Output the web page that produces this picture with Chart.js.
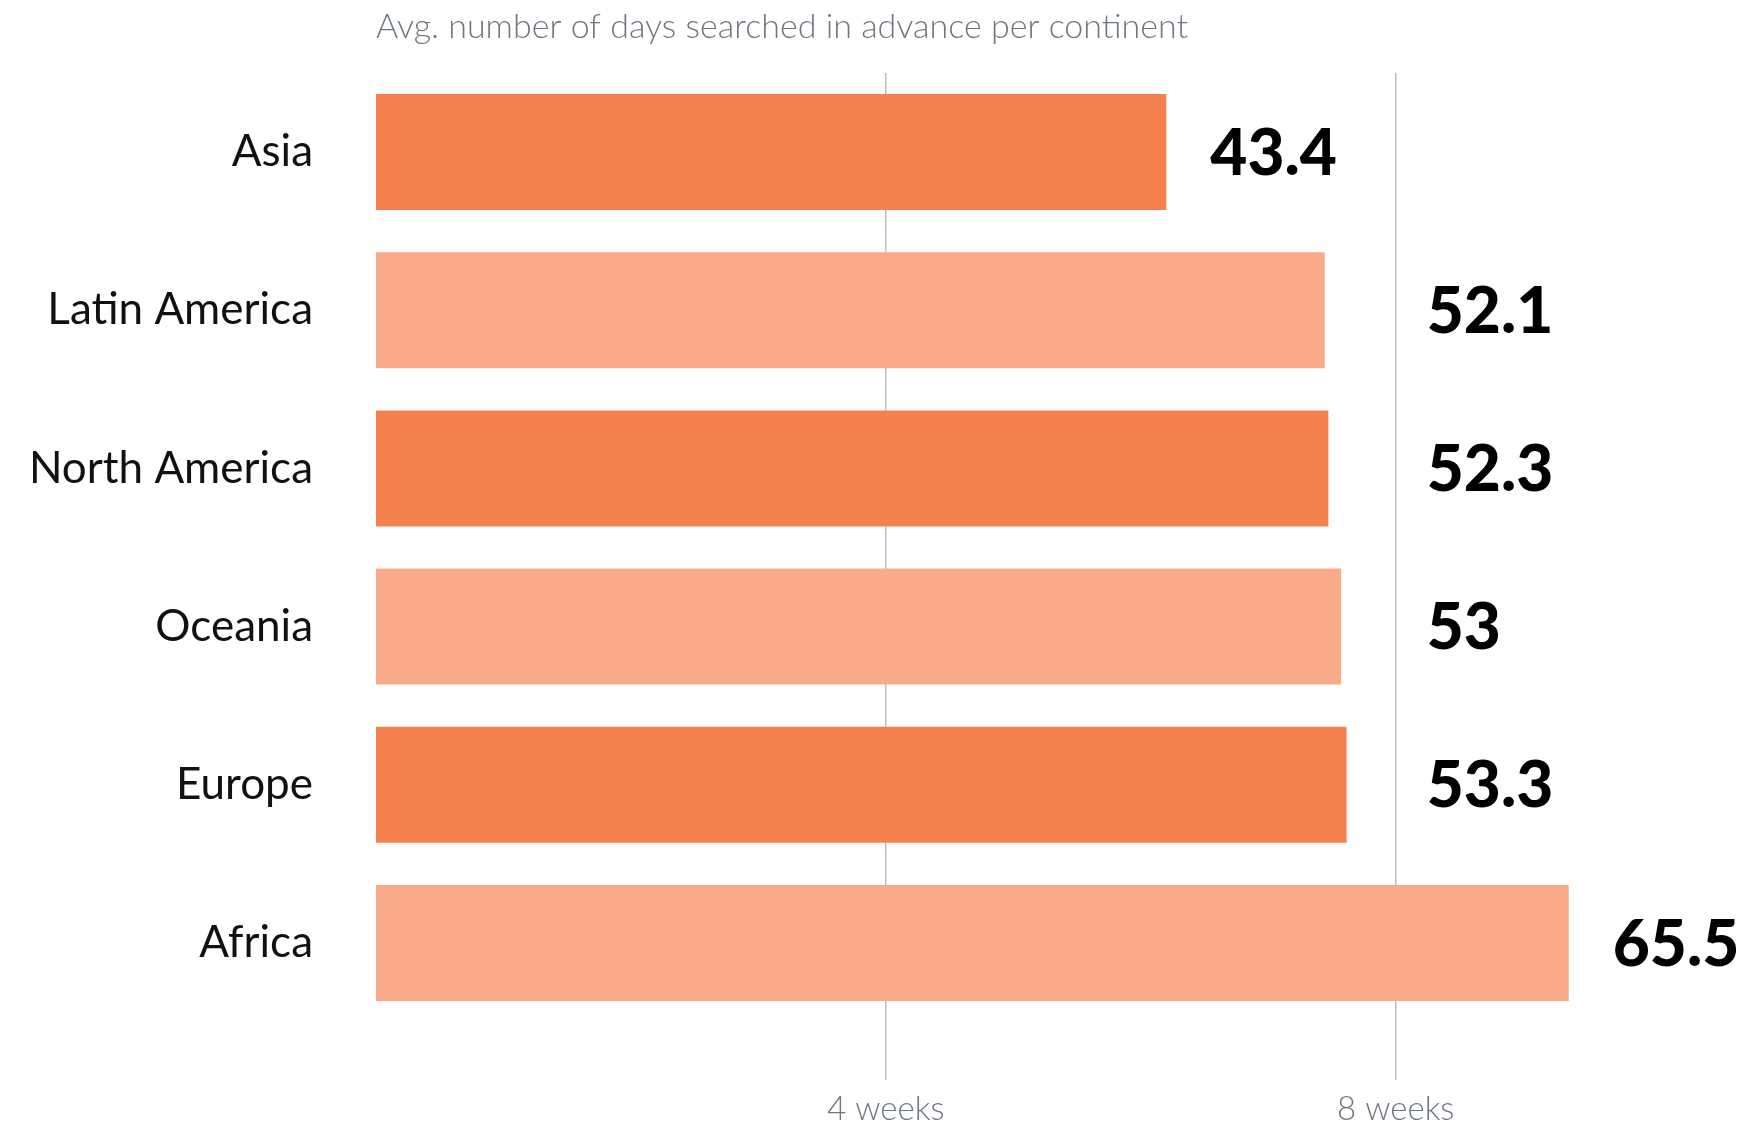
<!DOCTYPE html>
<html>
<head>
<meta charset="utf-8">
<script src="https://cdn.jsdelivr.net/npm/chart.js@4.4.1/dist/chart.umd.min.js"></script>
<style>
  html, body { margin: 0; padding: 0; background: #ffffff; }
  #wrap { width: 1749px; height: 1124px; }
</style>
</head>
<body>
<div id="wrap"><canvas id="daysChart" width="1749" height="1124"></canvas></div>
<script>
const continents = ["Asia", "Latin America", "North America", "Oceania", "Europe", "Africa"];
const avgDays = [43.4, 52.1, 52.3, 53, 53.3, 65.5];
const tickValues = [28, 56];
const tickLabels = ["4 weeks", "8 weeks"];
const chartTitle = "Avg. number of days searched in advance per continent";

const DARK = "#F5814F";
const LIGHT = "#F8AA89";
const GRID = "#BBC0C4";
const GREY_TEXT = "#6E777F";

// title sits above the plot, lined up with the bars' left edge
const topTitle = {
  id: "topTitle",
  afterDraw(chart) {
    const ctx = chart.ctx;
    ctx.save();
    ctx.font = "300 34px Lato, 'DejaVu Sans', sans-serif";
    ctx.fillStyle = GREY_TEXT;
    ctx.textBaseline = "middle";
    ctx.textAlign = "left";
    ctx.fillText(chartTitle, chart.chartArea.left, 27);
    ctx.restore();
  },
};

// value labels after the bars; pushed past the 8 weeks line if they would cross it
const valueLabels = {
  id: "valueLabels",
  afterDatasetsDraw(chart) {
    const ctx = chart.ctx;
    const xScale = chart.scales.x;
    const lineX = xScale.getPixelForValue(tickValues[tickValues.length - 1]);
    const meta = chart.getDatasetMeta(0);
    ctx.save();
    ctx.font = "900 64px Lato, 'DejaVu Sans', sans-serif";
    ctx.fillStyle = "#000000";
    ctx.textBaseline = "middle";
    ctx.textAlign = "left";
    meta.data.forEach((bar, i) => {
      const text = String(avgDays[i]);
      const w = ctx.measureText(text).width;
      let x = bar.x + 44;
      if (bar.x < lineX && x + w > lineX - 10) {
        x = lineX + 31;
      }
      ctx.fillText(text, x, bar.y + 2);
    });
    ctx.restore();
  },
};

const ctx = document.getElementById("daysChart").getContext("2d");

new Chart(ctx, {
  type: "bar",
  data: {
    labels: continents,
    datasets: [
      {
        data: avgDays,
        backgroundColor: (c) => (c.dataIndex % 2 === 0 ? DARK : LIGHT),
        borderWidth: 0,
        barPercentage: 0.733,
        categoryPercentage: 1,
      },
    ],
  },
  options: {
    indexAxis: "y",
    responsive: false,
    animation: false,
    layout: {
      padding: { top: 73, right: 0, bottom: 0, left: 0 },
    },
    plugins: {
      legend: { display: false },
      tooltip: { enabled: false },
      title: { display: false },
    },
    scales: {
      x: {
        min: 0,
        max: 75.4,
        border: { display: false },
        grid: {
          color: GRID,
          lineWidth: 1.5,
          drawTicks: true,
          tickLength: 58,
        },
        afterBuildTicks: (scale) => {
          scale.ticks = tickValues.map((v) => ({ value: v }));
        },
        afterFit: (scale) => {
          scale.height = 102;
        },
        ticks: {
          color: GREY_TEXT,
          padding: 10,
          maxRotation: 0,
          font: { family: "Lato", size: 33, weight: "300" },
          callback: (value) => tickLabels[tickValues.indexOf(value)],
        },
      },
      y: {
        border: { display: false },
        grid: { display: false, drawTicks: false },
        afterFit: (scale) => {
          scale.width = 376;
          // the label padding should not push the plot down
          scale.paddingTop = 0;
          scale.paddingBottom = 0;
        },
        ticks: {
          color: "#111111",
          padding: 63,
          font: { family: "Lato", size: 44, weight: "400" },
        },
      },
    },
  },
  plugins: [valueLabels, topTitle],
});
</script>
</body>
</html>
